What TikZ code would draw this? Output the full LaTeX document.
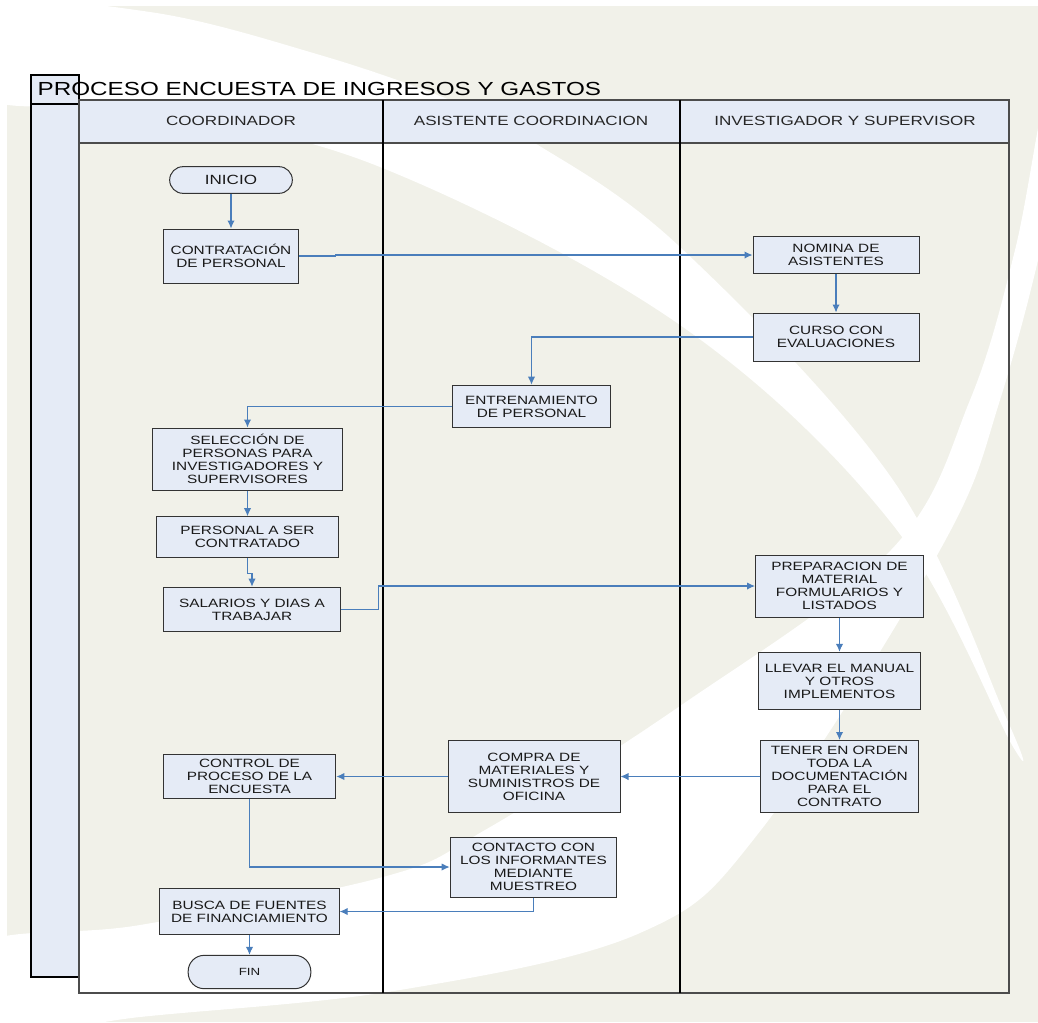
\documentclass[tikz,border=0pt]{standalone}
\usepackage{fontspec}
\setmainfont{Liberation Sans}
\newfontfamily\cajafont[FakeStretch=1.28]{Liberation Sans}
\usepackage{tikz}
\usetikzlibrary{arrows.meta}

\definecolor{fondo}{RGB}{241,241,233}
\definecolor{celeste}{RGB}{229,235,246}
\definecolor{flecha}{RGB}{74,126,187}

\begin{document}
\begin{tikzpicture}[x=0.75pt,y=-0.75pt,>={Latex[length=6pt,width=5.5pt]},
    caja/.style={draw=black!80,line width=0.75pt,fill=celeste,align=center,inner sep=0pt,
      text=black!90,font=\cajafont\fontsize{9}{9.8}\selectfont},
    terminal/.style={caja,rounded corners=10pt},
    carril/.style={font=\cajafont\fontsize{10}{12}\selectfont,text=black!85},
    flujo/.style={->,draw=flecha,line width=0.8pt}]
  \useasboundingbox (0,0) rectangle (1038,1022);
  % fondo con las curvas blancas
  \fill[white] (0,0) rectangle (1038,1022);
  \fill[fondo] (7,6) rectangle (1038,1022);
  \fill[white] plot[smooth cycle,tension=0.6] coordinates {(-20,6) (150,12) (320,55) (450,100)
    (530,140) (680,247) (893,480) (1005,715) (1012,745) (893,525) (680,325) (380,167)
    (150,112) (-20,97)};
  \fill[white] plot[smooth cycle,tension=0.6] coordinates {(-20,945) (140,925) (383,877) (485,830)
    (680,706) (891,550) (970,400) (1015,250) (1045,100) (1050,200) (1000,400) (940,550)
    (761,830) (640,933) (400,990) (140,1017) (-20,1035)};

  % piscina y carriles
  \draw[black,line width=0.9pt,fill=celeste] (31,104) rectangle (79,977);
  \draw[black,line width=0.9pt,fill=celeste] (31,75) rectangle (79,104);
  \draw[black!70,line width=0.9pt,fill=celeste] (79,100) rectangle (1009,143);
  \draw[black!70,line width=0.9pt] (79,100) rectangle (1009,993);
  \draw[black,line width=0.9pt] (383,100) -- (383,993);
  \draw[black,line width=0.9pt] (680,100) -- (680,993);
  \node[anchor=west,font=\cajafont\fontsize{14.2}{16}\selectfont] (titulo) at (33,89)
    {PROCESO ENCUESTA DE INGRESOS Y GASTOS};
  \node[carril] (coord) at (231,121) {COORDINADOR};
  \node[carril] (asist) at (531,121) {ASISTENTE COORDINACION};
  \node[carril] (invest) at (845,121) {INVESTIGADOR Y SUPERVISOR};

  % actividades
  \node[terminal,minimum width=92pt,minimum height=20pt,font=\cajafont\fontsize{10}{12}\selectfont] (inicio) at (231,180) {INICIO};
  \node[caja,minimum width=101pt,minimum height=40.5pt] (contrat) at (231,256) {CONTRATACIÓN\\DE PERSONAL};
  \node[caja,minimum width=124.5pt,minimum height=28pt] (nomina) at (836,255) {NOMINA DE\\ASISTENTES};
  \node[caja,minimum width=124.5pt,minimum height=36pt] (curso) at (836,337) {CURSO CON\\EVALUACIONES};
  \node[caja,minimum width=118pt,minimum height=32pt] (entren) at (531.5,406.5) {ENTRENAMIENTO\\DE PERSONAL};
  \node[caja,minimum width=142pt,minimum height=46.5pt] (selecc) at (247.5,459) {SELECCIÓN DE\\PERSONAS PARA\\INVESTIGADORES Y\\SUPERVISORES};
  \node[caja,minimum width=137pt,minimum height=30.5pt] (persona) at (247.5,537) {PERSONAL A SER\\CONTRATADO};
  \node[caja,minimum width=133pt,minimum height=33.5pt] (salario) at (252,609.5) {SALARIOS Y DIAS A\\TRABAJAR};
  \node[caja,minimum width=126pt,minimum height=46.5pt] (prepar) at (839.5,586) {PREPARACION DE\\MATERIAL\\FORMULARIOS Y\\LISTADOS};
  \node[caja,minimum width=122pt,minimum height=43pt] (llevar) at (839.5,681) {LLEVAR EL MANUAL\\Y OTROS\\IMPLEMENTOS};
  \node[caja,minimum width=118pt,minimum height=54pt] (tener) at (839.5,776.5) {TENER EN ORDEN\\TODA LA\\DOCUMENTACIÓN\\PARA EL\\CONTRATO};
  \node[caja,minimum width=129pt,minimum height=54pt] (compra) at (534,776.5) {COMPRA DE\\MATERIALES Y\\SUMINISTROS DE\\OFICINA};
  \node[caja,minimum width=129.5pt,minimum height=33.5pt] (control) at (249.5,776.5) {CONTROL DE\\PROCESO DE LA\\ENCUESTA};
  \node[caja,minimum width=125pt,minimum height=45pt] (contacto) at (533.5,867) {CONTACTO CON\\LOS INFORMANTES\\MEDIANTE\\MUESTREO};
  \node[caja,minimum width=134.5pt,minimum height=35pt] (busca) at (249.5,911.5) {BUSCA DE FUENTES\\DE FINANCIAMIENTO};
  \node[terminal,minimum width=92pt,minimum height=25pt,rounded corners=12pt,font=\cajafont\fontsize{7.8}{9}\selectfont] (fin) at (249.5,972) {FIN};

  % conectores
  \draw[flujo] (inicio) -- (contrat);
  \draw[flujo] (contrat.east) -- ++(37,0) |- (nomina.west);
  \draw[flujo] (nomina) -- (curso);
  \draw[flujo] (curso.west) -| (entren.north);
  \draw[flujo] (entren.west) -| (selecc.north);
  \draw[flujo] (selecc) -- (persona);
  \draw[flujo] (persona.south) -- ++(0,16) -| (salario.north);
  \draw[flujo] (salario.east) -- ++(37,0) |- (prepar.west);
  \draw[flujo] (prepar) -- (llevar);
  \draw[flujo] (llevar) -- (tener);
  \draw[flujo] (tener) -- (compra);
  \draw[flujo] (compra) -- (control);
  \draw[flujo] (control.south) |- (contacto.west);
  \draw[flujo] (contacto.south) |- (busca.east);
  \draw[flujo] (busca) -- (fin);
\end{tikzpicture}
\end{document}
